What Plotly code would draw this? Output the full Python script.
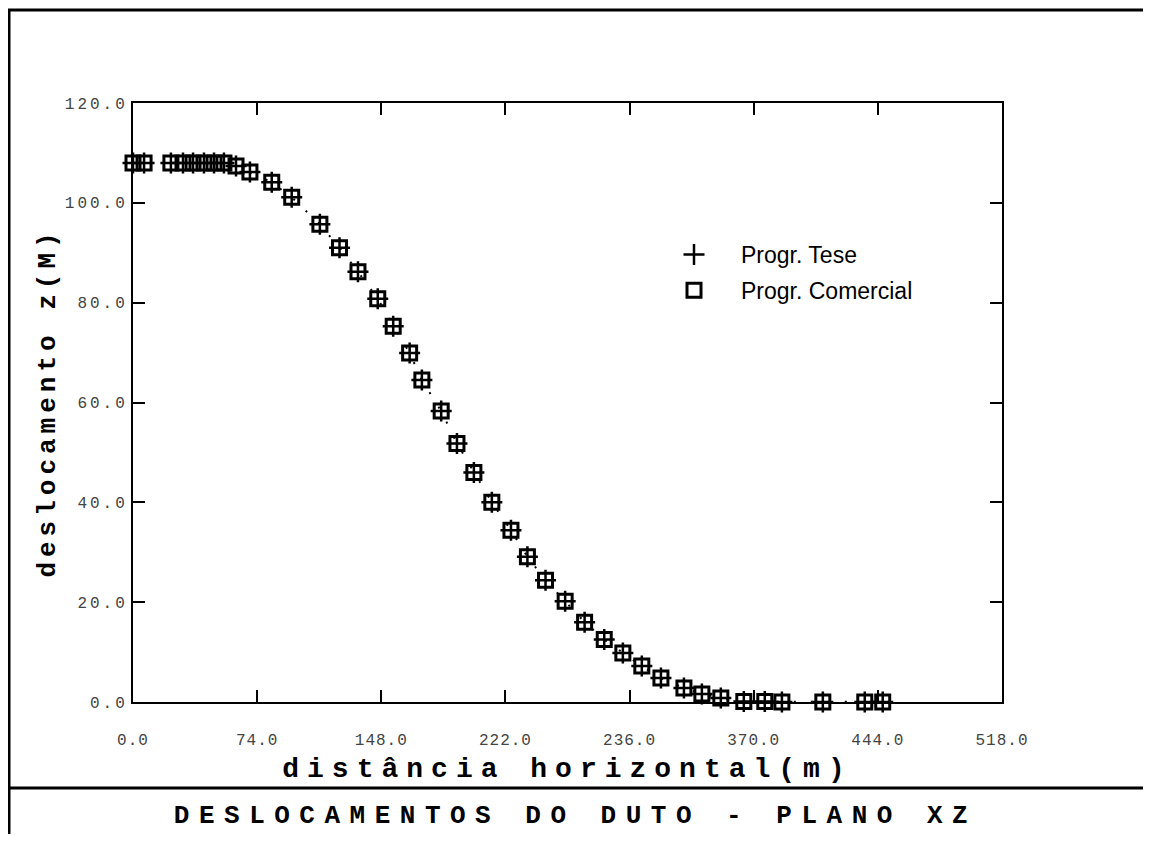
import plotly.graph_objects as go

# ---- data ----
x_tese = [0, 6.6, 22.6, 29.8, 35.8, 42.3, 48.3, 54.2, 61.4, 69.7, 82.7, 94.6,
          111.4, 123.1, 134.1, 145.9, 155.1, 164.9, 172.2, 183.7, 193.1, 203.2,
          213.9, 225.3, 235.1, 245.9, 257.6, 269.2, 280.9, 292.0, 303.3, 314.7,
          328.4, 339.1, 350.4, 364.1, 376.6, 386.8, 411.2, 436.2, 446.9]
z_tese = [108, 108, 108, 108, 108, 108, 108, 108, 107.4, 106.2, 104.1, 101.1,
          95.7, 91.0, 86.2, 80.8, 75.3, 69.9, 64.5, 58.3, 51.8, 46.0,
          40.0, 34.4, 29.1, 24.4, 20.2, 16.0, 12.5, 9.8, 7.2, 4.8,
          2.8, 1.6, 0.8, 0.1, 0.1, 0, 0, 0, 0]
x_comercial = list(x_tese)
z_comercial = list(z_tese)

x_ticks = [0, 74, 148, 222, 296, 370, 444, 518]
x_tick_labels = ["0.0", "74.0", "148.0", "222.0", "236.0", "370.0", "444.0", "518.0"]
y_ticks = [0, 20, 40, 60, 80, 100, 120]

title_text = "DESLOCAMENTOS DO DUTO - PLANO XZ"
x_title = "distância horizontal(m)"
y_title = "deslocamento z(M)"

MONO = "Liberation Mono, DejaVu Sans Mono, monospace"

# page body has an 8px margin: figure coordinates = reference pixels - 8
OFF = 8
W, H = 1151 - 2 * OFF, 842 - 2 * OFF
PL, PR, PT, PB = 133 - OFF, 1002 - OFF, 103 - OFF, 702 - OFF
PW, PH = PR - PL, PB - PT


def px_x(p):
    return (p - OFF - PL) / PW


def px_y(p):
    return (PB - (p - OFF)) / PH


fig = go.Figure()
fig.add_trace(go.Scatter(
    x=x_tese, y=z_tese, mode="lines", showlegend=False, hoverinfo="skip",
    line=dict(color="black", width=2, dash="2px,15px"), cliponaxis=False))
fig.add_trace(go.Scatter(
    x=x_tese, y=z_tese, mode="markers", name="Progr. Tese", legendgroup="a",
    cliponaxis=False,
    marker=dict(symbol="cross-thin-open", size=15, color="black",
                line=dict(color="black", width=2.5))))
fig.add_trace(go.Scatter(
    x=x_comercial, y=z_comercial, mode="markers", name="Progr. Comercial",
    legendgroup="b", cliponaxis=False,
    marker=dict(symbol="square-open", size=14, color="black",
                line=dict(color="black", width=3))))

axis_common = dict(
    showline=True, linecolor="black", linewidth=2, mirror="ticks",
    ticks="inside", ticklen=12, tickwidth=2, tickcolor="black",
    showgrid=False, zeroline=False,
)

fig.update_xaxes(
    range=[0, 518], tickvals=x_ticks, ticktext=x_tick_labels,
    ticklabelstandoff=22,
    tickfont=dict(family=MONO, size=16, color="#444"),
    title=dict(text=x_title, standoff=8,
               font=dict(family=MONO, size=28, color="black", weight="bold")),
    **axis_common)
fig.update_yaxes(
    range=[0, 120], tickvals=y_ticks, tickformat=".1f",
    tickfont=dict(family=MONO, size=16, color="#444"),
    title=dict(text=y_title, standoff=17,
               font=dict(family=MONO, size=26, color="black", weight="bold")),
    **axis_common)

# outer frame and divider
fx0, fx1 = px_x(9), px_x(1146)
fy_top, fy_div, fy_bot = px_y(10), px_y(788), px_y(860)
fig.add_shape(type="rect", xref="paper", yref="paper", x0=fx0, x1=fx1,
              y0=fy_bot, y1=fy_top, line=dict(color="black", width=3))
fig.add_shape(type="line", xref="paper", yref="paper", x0=fx0, x1=fx1,
              y0=fy_div, y1=fy_div, line=dict(color="black", width=3))

fig.update_layout(
    width=W, height=H,
    margin=dict(l=PL, r=W - PR, t=PT, b=H - PB),
    plot_bgcolor="white", paper_bgcolor="white",
    title=dict(text=title_text, x=0.5, xanchor="center",
               y=(H - (814 - OFF)) / H, yanchor="middle", yref="container",
               font=dict(family=MONO, size=26, color="black", weight="bold")),
    legend=dict(x=px_x(647), y=px_y(233), xanchor="left",
                yanchor="top", bgcolor="rgba(0,0,0,0)", itemwidth=84,
                tracegroupgap=3,
                font=dict(family="Liberation Sans, Arial, sans-serif", size=23,
                          color="black")),
    showlegend=True,
)

js = """
var gd = document.getElementById('{plot_id}');
function sp(sel, v) {
  gd.querySelectorAll(sel).forEach(function (t) { t.style.letterSpacing = v; });
}
sp('text.gtitle', '9.5px');
sp('text.xtitle', '8px');
sp('text.ytitle', '5px');
sp('g.ytick text', '3px');
sp('g.xtick text', '1px');
"""

fig.write_html("out.html", post_script=js)
